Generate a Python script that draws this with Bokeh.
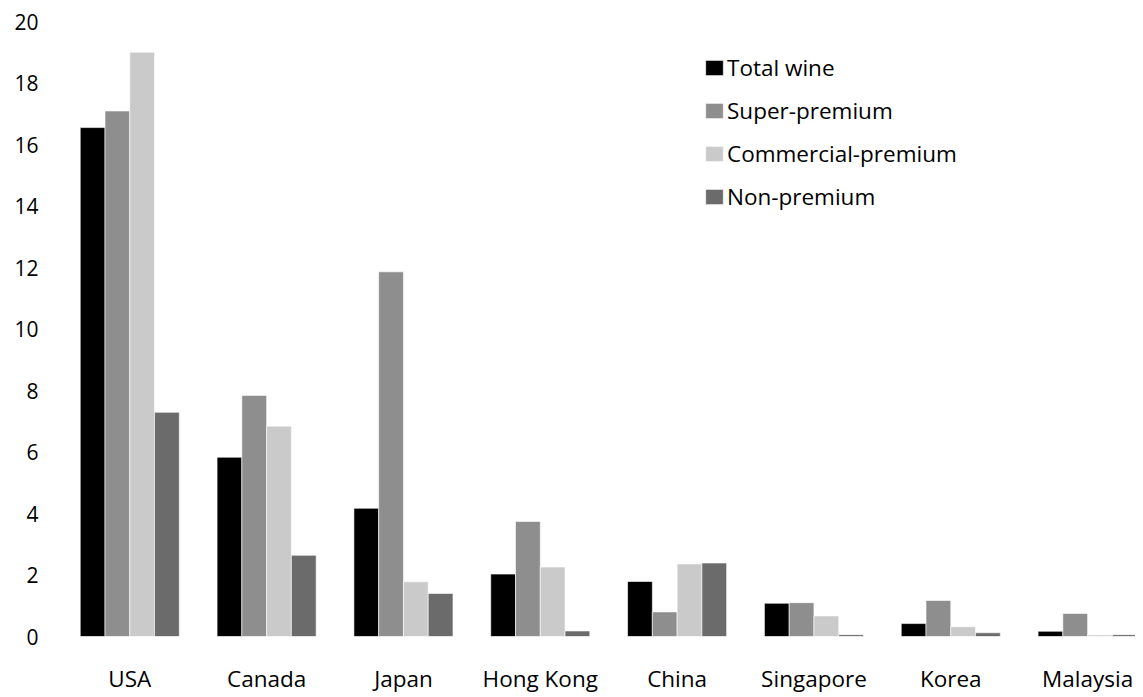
from bokeh.plotting import figure
from bokeh.models import Range1d, FixedTicker, ColumnDataSource, Legend, LegendItem
from bokeh.transform import dodge
from bokeh.embed import file_html
from bokeh.resources import INLINE

countries = ["USA", "Canada", "Japan", "Hong Kong", "China", "Singapore", "Korea", "Malaysia"]
series_names = ["Total wine", "Super-premium", "Commercial-premium", "Non-premium"]
total_wine = [16.55, 5.83, 4.17, 2.03, 1.79, 1.08, 0.42, 0.17]
super_premium = [17.09, 7.84, 11.86, 3.74, 0.80, 1.10, 1.17, 0.75]
commercial_premium = [19.0, 6.84, 1.78, 2.26, 2.36, 0.67, 0.32, 0.05]
non_premium = [7.29, 2.64, 1.40, 0.18, 2.39, 0.06, 0.12, 0.06]
colors = ["#000000", "#8e8e8e", "#cacaca", "#6b6b6b"]
y_ticks = [0, 2, 4, 6, 8, 10, 12, 14, 16, 18, 20]

FONT = "Open Sans"

source = ColumnDataSource(data=dict(
    idx=list(range(len(countries))),
    total_wine=total_wine,
    super_premium=super_premium,
    commercial_premium=commercial_premium,
    non_premium=non_premium,
))

p = figure(width=1135, height=696, output_backend="svg", toolbar_location=None,
           x_range=Range1d(-0.594, 7.35), y_range=Range1d(0, 20),
           min_border_left=48, min_border_right=0, min_border_top=21, min_border_bottom=0)

bw = 0.181
fields = ["total_wine", "super_premium", "commercial_premium", "non_premium"]
offsets = [-1.5 * bw, -0.5 * bw, 0.5 * bw, 1.5 * bw]
renderers = []
for f, off, c in zip(fields, offsets, colors):
    r = p.vbar(x=dodge("idx", off), top=f, width=bw, bottom=0, source=source,
               fill_color=c, line_color="white", line_width=0.6)
    renderers.append(r)

legend = Legend(items=[LegendItem(label=n, renderers=[r]) for n, r in zip(series_names, renderers)],
                location=(655, 424), orientation="vertical",
                background_fill_alpha=0, border_line_color=None,
                glyph_width=22, glyph_height=19, label_standoff=2, spacing=12, padding=0, margin=0,
                label_text_font=FONT, label_text_font_size="22.5px", label_text_color="#000000")
p.add_layout(legend)

p.grid.visible = False
p.outline_line_color = None
p.background_fill_color = "white"

p.yaxis.ticker = FixedTicker(ticks=y_ticks)
p.yaxis.axis_line_color = None
p.yaxis.major_tick_line_color = None
p.yaxis.minor_tick_line_color = None
p.yaxis.major_tick_out = 0
p.yaxis.major_tick_in = 0
p.yaxis.major_label_standoff = 10
p.yaxis.major_label_text_font = FONT
p.yaxis.major_label_text_font_size = "21px"
p.yaxis.major_label_text_color = "#000000"

p.xaxis.ticker = FixedTicker(ticks=list(range(len(countries))))
p.xaxis.major_label_overrides = {i: c for i, c in enumerate(countries)}
p.xaxis.axis_line_color = None
p.xaxis.major_tick_line_color = None
p.xaxis.minor_tick_line_color = None
p.xaxis.major_tick_out = 0
p.xaxis.major_tick_in = 0
p.xaxis.major_label_standoff = 26
p.xaxis.major_label_text_font = FONT
p.xaxis.major_label_text_font_size = "22.5px"
p.xaxis.major_label_text_color = "#000000"

open("out.html", "w").write(file_html(p, INLINE))
